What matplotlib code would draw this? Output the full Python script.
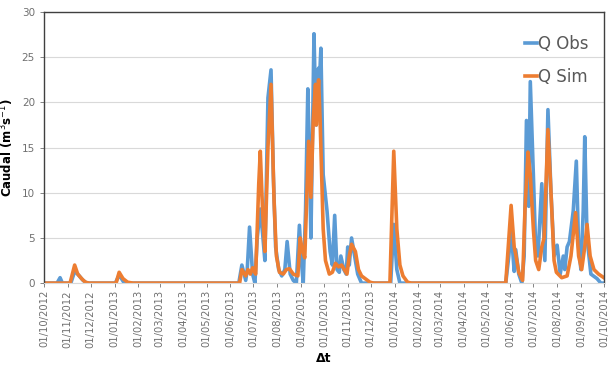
import matplotlib
matplotlib.use("Agg")
import matplotlib.pyplot as plt
import matplotlib.dates as mdates
import pandas as pd

obs_dates = ["2012-10-01", "2012-10-18", "2012-10-22", "2012-10-25", "2012-11-05", "2012-11-10",
             "2012-11-14", "2012-11-21", "2012-11-26", "2013-01-02", "2013-01-07", "2013-01-13",
             "2013-01-18", "2013-06-12", "2013-06-16", "2013-06-21", "2013-06-23", "2013-06-26",
             "2013-06-30", "2013-07-03", "2013-07-06", "2013-07-10", "2013-07-13", "2013-07-16",
             "2013-07-20", "2013-07-24", "2013-07-27", "2013-07-30", "2013-08-03", "2013-08-07",
             "2013-08-11", "2013-08-14", "2013-08-18", "2013-08-22", "2013-08-26", "2013-08-30",
             "2013-09-02", "2013-09-04", "2013-09-07", "2013-09-10", "2013-09-12", "2013-09-14",
             "2013-09-16", "2013-09-18", "2013-09-20", "2013-09-21", "2013-09-24", "2013-09-25",
             "2013-09-27", "2013-09-30", "2013-10-05", "2013-10-09", "2013-10-12", "2013-10-15",
             "2013-10-18", "2013-10-21", "2013-10-23", "2013-10-27", "2013-10-30", "2013-11-01",
             "2013-11-03", "2013-11-06", "2013-11-10", "2013-11-14", "2013-11-19", "2013-12-27",
             "2013-12-31", "2014-01-04", "2014-01-08", "2014-05-26", "2014-05-30", "2014-06-02",
             "2014-06-06", "2014-06-08", "2014-06-12", "2014-06-16", "2014-06-19", "2014-06-22",
             "2014-06-25", "2014-06-27", "2014-07-01", "2014-07-04", "2014-07-07", "2014-07-12",
             "2014-07-16", "2014-07-20", "2014-07-24", "2014-07-28", "2014-08-01", "2014-08-05",
             "2014-08-09", "2014-08-11", "2014-08-14", "2014-08-17", "2014-08-22", "2014-08-26",
             "2014-08-29", "2014-09-01", "2014-09-04", "2014-09-06", "2014-09-09", "2014-09-14",
             "2014-09-22", "2014-09-27", "2014-10-01"]
obs_values = [0, 0, 0.6, 0, 0, 1.3,
              1.0, 0.3, 0, 0, 0.9, 0.1,
              0, 0, 2.0, 0.3, 1.5, 6.2,
              1.0, 0, 5.0, 8.2, 5.5, 2.5,
              20.5, 23.6, 12, 4, 1.5, 0.8,
              1.5, 4.6, 1.0, 0.3, 0, 6.4,
              2.0, 0, 8, 21.5, 14, 5,
              16, 27.6, 20, 17.5, 23.8, 22,
              26, 12, 8, 3.5, 2, 7.5,
              1.5, 1.2, 3.0, 1.5, 1.0, 4.0,
              2.0, 5.0, 3, 1, 0, 0,
              6.5, 1.5, 0, 0, 3, 6,
              1.3, 3.7, 1, 0, 3, 18,
              8.5, 22.3, 12, 4, 3, 11,
              2.5, 19.2, 10, 3, 4.2, 1,
              3, 1.5, 4, 4.6, 8, 13.5,
              4, 1.5, 8, 16.2, 5, 1,
              0.5, 0, 0]

sim_dates = ["2012-10-01", "2012-11-04", "2012-11-10", "2012-11-14", "2012-11-19", "2012-11-24",
             "2012-11-29", "2013-01-03", "2013-01-07", "2013-01-12", "2013-01-18", "2013-01-25",
             "2013-06-13", "2013-06-16", "2013-06-21", "2013-06-24", "2013-06-27", "2013-06-30",
             "2013-07-04", "2013-07-08", "2013-07-10", "2013-07-13", "2013-07-16", "2013-07-20",
             "2013-07-24", "2013-07-28", "2013-07-31", "2013-08-04", "2013-08-09", "2013-08-13",
             "2013-08-17", "2013-08-22", "2013-08-28", "2013-08-31", "2013-09-03", "2013-09-06",
             "2013-09-11", "2013-09-14", "2013-09-17", "2013-09-20", "2013-09-21", "2013-09-24",
             "2013-09-26", "2013-09-30", "2013-10-03", "2013-10-08", "2013-10-12", "2013-10-16",
             "2013-10-20", "2013-10-24", "2013-10-31", "2013-11-03", "2013-11-06", "2013-11-11",
             "2013-11-15", "2013-11-19", "2013-11-30", "2013-12-05", "2013-12-26", "2013-12-31",
             "2014-01-04", "2014-01-08", "2014-01-12", "2014-01-18", "2014-01-23", "2014-05-26",
             "2014-06-02", "2014-06-06", "2014-06-08", "2014-06-12", "2014-06-17", "2014-06-20",
             "2014-06-24", "2014-06-27", "2014-07-01", "2014-07-04", "2014-07-08", "2014-07-12",
             "2014-07-15", "2014-07-20", "2014-07-24", "2014-07-28", "2014-07-31", "2014-08-07",
             "2014-08-14", "2014-08-19", "2014-08-25", "2014-08-29", "2014-09-02", "2014-09-06",
             "2014-09-09", "2014-09-13", "2014-09-18", "2014-09-24", "2014-10-01"]
sim_values = [0, 0, 2.0, 1.0, 0.5, 0.1,
              0, 0, 1.2, 0.5, 0.1, 0,
              0, 1.5, 0.8, 1.5, 1.0, 1.7,
              1.0, 11, 14.6, 8, 3.5, 15,
              22, 9, 3, 1.2, 1.0, 1.5,
              1.6, 1, 0.8, 5.0, 3.5, 2.8,
              15.7, 9.5, 18, 22, 17.5, 22.5,
              18, 6, 2.5, 1, 1.2, 2.2,
              1.8, 2.0, 1, 3, 4.3, 3.5,
              1.5, 0.8, 0.1, 0, 0, 14.6,
              6, 2, 0.8, 0.1, 0, 0,
              8.6, 4, 3.2, 1.2, 0.3, 8,
              14.5, 12, 6, 2.5, 1.5, 4.0,
              5, 17, 10, 2.5, 1.2, 0.6,
              0.8, 3, 7.8, 3, 1.5, 4,
              6.5, 3, 1.5, 1, 0.6]

y_ticks = [0, 5, 10, 15, 20, 25, 30]

obs_x = pd.to_datetime(obs_dates)
sim_x = pd.to_datetime(sim_dates)

fig = plt.figure(figsize=(6.15, 3.77), dpi=100)
ax = fig.add_axes([0.0715, 0.249, 0.9105, 0.719])

ax.plot(obs_x, obs_values, color="#5B9BD5", lw=2.6, label="Q Obs", solid_joinstyle="round")
ax.plot(sim_x, sim_values, color="#ED7D31", lw=2.6, label="Q Sim", solid_joinstyle="round")

ax.set_xlim(pd.Timestamp("2012-10-01"), pd.Timestamp("2014-10-01"))
ax.set_ylim(0, 30)
ax.set_yticks(y_ticks)
ax.yaxis.grid(True, color="#D9D9D9", lw=0.8)
ax.set_axisbelow(True)

ax.xaxis.set_major_locator(mdates.MonthLocator())
ax.xaxis.set_major_formatter(mdates.DateFormatter("%d/%m/%Y"))
for lab in ax.get_xticklabels():
    lab.set_rotation(90)

ax.tick_params(axis="both", colors="#707070", labelsize=7.5, length=3, width=0.6)
ax.tick_params(axis="x", labelsize=7.2, pad=2)

for side in ["left", "top", "right"]:
    ax.spines[side].set_color("#404040")
    ax.spines[side].set_linewidth(1.0)
ax.spines["bottom"].set_color("#D9D9D9")
ax.spines["bottom"].set_linewidth(0.8)

ax.set_ylabel("Caudal (m$^{3}$s$^{-1}$)", fontsize=8.5, fontweight="bold", labelpad=4)
ax.set_xlabel("Δt", fontsize=9, fontweight="bold", labelpad=3)

leg = ax.legend(loc="upper right", bbox_to_anchor=(1.0, 0.97), frameon=False,
                fontsize=12, handlelength=0.7, handletextpad=0.1, labelspacing=0.9)
for t in leg.get_texts():
    t.set_color("#595959")

fig.savefig("out.png", dpi=100)
